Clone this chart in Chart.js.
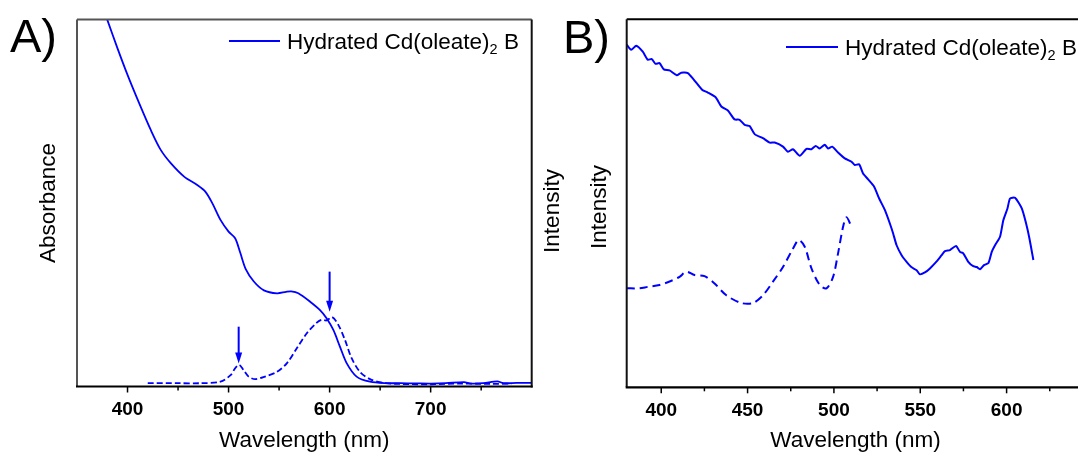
<!DOCTYPE html>
<html><head><meta charset="utf-8">
<script src="https://cdn.jsdelivr.net/npm/chart.js@4.4.1/dist/chart.umd.min.js"></script>
<style>
html,body{margin:0;padding:0;background:#fff;overflow:hidden;width:1078px;height:457px;}
#ca{position:absolute;left:0;top:0;}
#cb{position:absolute;left:540px;top:0;}
</style></head><body>
<canvas id="ca" width="540" height="457"></canvas>
<canvas id="cb" width="560" height="457"></canvas>
<script>
// ---------- Panel A : absorbance ----------
const absSolidX = [376,380,390,400,411.5,423,433,443,456,469,477,484,492,500,506.5,511.5,517,525,535,548,557,562,569,580.7,590.5,597,603.7,610.3,617,626.7,640,656,670,685,700,715,733,740,752,766,772,785,800];
const absSolidY = [103,99.9,92.2,84.9,77.2,69.9,64.4,60.8,57.2,54.9,53.1,49.9,45.4,42.2,40.4,36.5,32.0,28.6,26.2,25.4,25.8,25.9,25.4,23.1,20.8,18.6,15.4,10.8,6.3,2.7,1.3,0.9,0.9,0.85,0.8,0.9,1.2,0.8,0.9,1.4,0.9,1.0,1.0];
const absDashX = [420,450,472,492,502,506.6,510.6,514.8,519.8,526.4,536,548,557.6,567.5,577.4,587.3,592,597,602.5,608.6,615.2,621.8,630,640,653,670,700,730,760,780];
const absDashY = [0.9,0.9,0.9,1.3,3.1,5.0,5.9,4.5,2.7,2.0,2.7,4.0,6.3,10.4,14.5,17.4,18.2,18.0,18.9,16.8,12.7,7.7,4.0,2.0,1.0,0.7,0.6,0.8,0.7,0.8];
const arrowX = [510, 600];
const arrowTop = [16.3, 31.3];
const arrowTip = [6.3, 20.4];
const ticksMajorA = [400,500,600,700];
const ticksMinorA = [450,550,650,750];

// ---------- Panel B : emission ----------
const emSolidX = [380,382.6,385.5,389.3,392.2,394.5,396.7,399,401.5,404.8,409,411.6,415.4,418.7,423.8,427,431.5,434.8,438.6,442.5,445.4,448.3,451.2,454.1,458.9,462.8,465.7,470.5,473.4,476.3,480.2,484.1,487,489.5,491.8,494.7,496.6,499,502.4,506.3,510.2,512.1,514.6,516.9,519.8,523.3,526.2,529.5,532.4,534.3,536.3,539.2,542.1,545,547.9,549.8,552.7,555.6,559.5,562.4,564.3,567.2,570.7,573,574.9,577.8,580.7,582.7,584.6,586.9,589.5,591.4,593.3,596.2,598.1,600.5,602,604.9,608.8,611.3,613.2,615.5];
const emSolidY = [93.1,91.7,92.8,91.2,89.0,89.2,87.9,88.1,86.4,86.1,84.8,85.5,85.4,83.7,80.8,80.1,78.8,76.3,75.2,72.8,72.7,71.3,71.0,68.8,67.7,66.5,66.5,65.4,64.0,64.7,62.9,64.8,64.7,65.6,64.9,65.9,64.9,65.4,63.8,62.2,61.3,60.4,60.6,58.1,56.5,54.5,51.3,48.2,44.5,41.8,38.6,35.9,34.1,32.6,31.8,30.7,31.2,32.3,34.2,35.9,37.0,37.3,38.4,36.8,36.4,34.1,32.9,32.7,32.1,33.2,33.8,36.8,38.6,40.9,45.4,48.6,51.3,51.5,48.6,44.5,40.5,34.6];
const emDashX = [380,387.4,392.2,399,406.7,410.6,414.5,419.3,425.1,430.9,437.7,446.4,453.1,458.9,464.7,470.5,476.3,479.6,483.1,487,491.8,495.7,499.5,502.4,505.3,507.3,510.2];
const emDashY = [26.9,26.9,27.3,27.8,29.1,30.0,31.4,30.5,30.2,28.2,25.0,22.9,22.9,25.0,28.7,32.7,37.7,40.0,38.2,32.3,27.8,26.9,30.0,36.4,43.6,46.2,43.6];
const ticksMajorB = [400,450,500,550,600];
const ticksMinorB = [425,475,525,575,625];

const seriesName = ['Hydrated Cd(oleate)', '2', ' B'];
const xTitle = 'Wavelength (nm)';

const BLUE = '#0000ff';
const FONT = "'Liberation Sans', Arial, Helvetica, sans-serif";
const pts = (xs, ys) => xs.map((x, i) => ({x, y: ys[i]}));

const deco = {
  id: 'deco',
  afterDraw(chart) {
    const o = chart.options.plugins.deco;
    const ctx = chart.ctx;
    const a = chart.chartArea;
    const xs = chart.scales.x, ys = chart.scales.y;
    ctx.save();
    if (o.arrows) {
      o.arrows.x.forEach((v, i) => {
        const px = xs.getPixelForValue(v);
        const pt = ys.getPixelForValue(o.arrows.top[i]);
        const pp = ys.getPixelForValue(o.arrows.tip[i]);
        ctx.strokeStyle = BLUE; ctx.fillStyle = BLUE; ctx.lineWidth = 2;
        ctx.beginPath(); ctx.moveTo(px, pt); ctx.lineTo(px, pp - 9); ctx.stroke();
        ctx.beginPath(); ctx.moveTo(px - 3.5, pp - 11); ctx.lineTo(px + 3.5, pp - 11); ctx.lineTo(px, pp); ctx.closePath(); ctx.fill();
      });
    }
    ctx.strokeStyle = '#000'; ctx.lineWidth = 1.5;
    o.major.forEach(v => { const p = xs.getPixelForValue(v); ctx.beginPath(); ctx.moveTo(p, a.bottom); ctx.lineTo(p, a.bottom + 6); ctx.stroke(); });
    o.minor.forEach(v => { const p = xs.getPixelForValue(v); ctx.beginPath(); ctx.moveTo(p, a.bottom); ctx.lineTo(p, a.bottom + 4); ctx.stroke(); });
    const f = o.frame;
    const side = (x1, y1, x2, y2, c, w) => { ctx.strokeStyle = c; ctx.lineWidth = w; ctx.beginPath(); ctx.moveTo(x1, y1); ctx.lineTo(x2, y2); ctx.stroke(); };
    side(a.left, a.top, a.right, a.top, f.top, 2);
    side(a.left, a.top, a.left, a.bottom, f.left, 2);
    side(a.right, a.top, a.right, a.bottom + 1, f.right, 2);
    side(a.left - 1, a.bottom, a.right + 1, a.bottom, f.bottom, 2.2);
    const L = o.legend;
    ctx.strokeStyle = BLUE; ctx.lineWidth = 2;
    ctx.beginPath(); ctx.moveTo(L.x0, L.y); ctx.lineTo(L.x1, L.y); ctx.stroke();
    ctx.fillStyle = '#000'; ctx.textBaseline = 'alphabetic'; ctx.textAlign = 'left';
    let tx = L.tx; const base = L.y + 8;
    ctx.font = '22.5px ' + FONT; ctx.fillText(seriesName[0], tx, base); tx += ctx.measureText(seriesName[0]).width;
    ctx.font = '14.5px ' + FONT; ctx.fillText(seriesName[1], tx, base + 5); tx += ctx.measureText(seriesName[1]).width;
    ctx.font = '22.5px ' + FONT; ctx.fillText(seriesName[2], tx, base);
    ctx.font = '47px ' + FONT; ctx.fillText(o.letter.t, o.letter.x, o.letter.y);
    ctx.font = '22.5px ' + FONT; ctx.textAlign = 'center'; ctx.textBaseline = 'middle';
    o.ytitles.forEach(t => { ctx.save(); ctx.translate(t.x, t.y); ctx.rotate(-Math.PI / 2); ctx.fillText(t.t, 0, 0); ctx.restore(); });
    ctx.restore();
  }
};

function xScale(min, max, major, axisH) {
  return {
    type: 'linear', min, max,
    afterBuildTicks: s => { s.ticks = major.map(v => ({value: v})); },
    afterFit: s => { s.height = axisH; },
    grid: {display: false, drawTicks: false},
    border: {display: false},
    ticks: {font: {family: FONT, size: 19, weight: 'bold'}, color: '#000', padding: 12, maxRotation: 0, autoSkip: false, callback: v => String(v)},
    title: {display: true, text: xTitle, font: {family: FONT, size: 22.5}, color: '#000', padding: {top: 0, bottom: 3}}
  };
}

new Chart(document.getElementById('ca'), {
  type: 'line',
  data: {datasets: [
    {data: pts(absSolidX, absSolidY), borderColor: BLUE, borderWidth: 1.8, pointRadius: 0, tension: 0.3},
    {data: pts(absDashX, absDashY), borderColor: BLUE, borderWidth: 1.8, borderDash: [6, 3], pointRadius: 0, tension: 0.3}
  ]},
  options: {
    responsive: false, animation: false, devicePixelRatio: 1,
    layout: {padding: {left: 77, right: 8.3, top: 19.5, bottom: 0}},
    plugins: {
      legend: {display: false}, tooltip: {enabled: false},
      deco: {
        arrows: {x: arrowX, top: arrowTop, tip: arrowTip},
        major: ticksMajorA, minor: ticksMinorA,
        frame: {top: '#555', left: '#555', right: '#111', bottom: '#000'},
        legend: {x0: 229, x1: 280, y: 41, tx: 287},
        letter: {t: 'A)', x: 10, y: 52},
        ytitles: [{t: 'Absorbance', x: 49, y: 203}]
      }
    },
    scales: {x: xScale(350, 800, ticksMajorA, 70.5), y: {type: 'linear', min: 0, max: 100, display: false}}
  },
  plugins: [deco]
});

new Chart(document.getElementById('cb'), {
  type: 'line',
  data: {datasets: [
    {data: pts(emSolidX, emSolidY), borderColor: BLUE, borderWidth: 2, pointRadius: 0, tension: 0.2},
    {data: pts(emDashX, emDashY), borderColor: BLUE, borderWidth: 2, borderDash: [8, 5], pointRadius: 0, tension: 0.3}
  ]},
  options: {
    responsive: false, animation: false, devicePixelRatio: 1,
    layout: {padding: {left: 86.7, right: 15.7, top: 19.3, bottom: 0}},
    plugins: {
      legend: {display: false}, tooltip: {enabled: false},
      deco: {
        major: ticksMajorB, minor: ticksMinorB,
        frame: {top: '#000', left: '#111', right: '#000', bottom: '#000'},
        legend: {x0: 246, x1: 298, y: 47, tx: 305},
        letter: {t: 'B)', x: 23, y: 53},
        ytitles: [{t: 'Intensity', x: 13, y: 211}, {t: 'Intensity', x: 60, y: 207}]
      }
    },
    scales: {x: xScale(380, 645, ticksMajorB, 69.7), y: {type: 'linear', min: 0, max: 100, display: false}}
  },
  plugins: [deco]
});
</script>
</body></html>
